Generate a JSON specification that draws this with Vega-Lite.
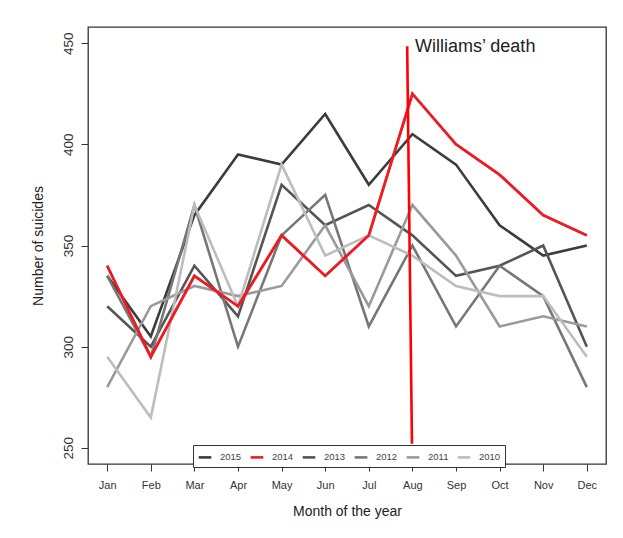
{
  "$schema": "https://vega.github.io/schema/vega-lite/v6.json",
  "width": 518,
  "height": 437,
  "autosize": {"type": "none"},
  "padding": {"left": 88, "top": 27, "right": 17, "bottom": 74},
  "background": "white",
  "config": {
    "font": "Liberation Sans",
    "view": {"stroke": "#333333", "strokeWidth": 1.3},
    "axis": {"grid": false, "domain": false, "tickColor": "#333333", "tickSize": 7, "tickWidth": 1, "labelColor": "#333333", "titleColor": "#222222", "titleFontWeight": "normal", "titleFont": "Liberation Sans", "labelFont": "Liberation Sans"}
  },
  "datasets": {
    "suicides": [
      {"year": "2015", "month": 1, "n": 335}, {"year": "2015", "month": 2, "n": 305}, {"year": "2015", "month": 3, "n": 365}, {"year": "2015", "month": 4, "n": 395}, {"year": "2015", "month": 5, "n": 390}, {"year": "2015", "month": 6, "n": 415}, {"year": "2015", "month": 7, "n": 380}, {"year": "2015", "month": 8, "n": 405}, {"year": "2015", "month": 9, "n": 390}, {"year": "2015", "month": 10, "n": 360}, {"year": "2015", "month": 11, "n": 345}, {"year": "2015", "month": 12, "n": 350},
      {"year": "2013", "month": 1, "n": 320}, {"year": "2013", "month": 2, "n": 300}, {"year": "2013", "month": 3, "n": 340}, {"year": "2013", "month": 4, "n": 315}, {"year": "2013", "month": 5, "n": 380}, {"year": "2013", "month": 6, "n": 360}, {"year": "2013", "month": 7, "n": 370}, {"year": "2013", "month": 8, "n": 355}, {"year": "2013", "month": 9, "n": 335}, {"year": "2013", "month": 10, "n": 340}, {"year": "2013", "month": 11, "n": 350}, {"year": "2013", "month": 12, "n": 300},
      {"year": "2012", "month": 1, "n": 335}, {"year": "2012", "month": 2, "n": 295}, {"year": "2012", "month": 3, "n": 370}, {"year": "2012", "month": 4, "n": 300}, {"year": "2012", "month": 5, "n": 355}, {"year": "2012", "month": 6, "n": 375}, {"year": "2012", "month": 7, "n": 310}, {"year": "2012", "month": 8, "n": 350}, {"year": "2012", "month": 9, "n": 310}, {"year": "2012", "month": 10, "n": 340}, {"year": "2012", "month": 11, "n": 325}, {"year": "2012", "month": 12, "n": 280},
      {"year": "2011", "month": 1, "n": 280}, {"year": "2011", "month": 2, "n": 320}, {"year": "2011", "month": 3, "n": 330}, {"year": "2011", "month": 4, "n": 325}, {"year": "2011", "month": 5, "n": 330}, {"year": "2011", "month": 6, "n": 360}, {"year": "2011", "month": 7, "n": 320}, {"year": "2011", "month": 8, "n": 370}, {"year": "2011", "month": 9, "n": 345}, {"year": "2011", "month": 10, "n": 310}, {"year": "2011", "month": 11, "n": 315}, {"year": "2011", "month": 12, "n": 310},
      {"year": "2010", "month": 1, "n": 295}, {"year": "2010", "month": 2, "n": 265}, {"year": "2010", "month": 3, "n": 370}, {"year": "2010", "month": 4, "n": 320}, {"year": "2010", "month": 5, "n": 390}, {"year": "2010", "month": 6, "n": 345}, {"year": "2010", "month": 7, "n": 355}, {"year": "2010", "month": 8, "n": 345}, {"year": "2010", "month": 9, "n": 330}, {"year": "2010", "month": 10, "n": 325}, {"year": "2010", "month": 11, "n": 325}, {"year": "2010", "month": 12, "n": 295},
      {"year": "2014", "month": 1, "n": 340}, {"year": "2014", "month": 2, "n": 295}, {"year": "2014", "month": 3, "n": 335}, {"year": "2014", "month": 4, "n": 320}, {"year": "2014", "month": 5, "n": 355}, {"year": "2014", "month": 6, "n": 335}, {"year": "2014", "month": 7, "n": 355}, {"year": "2014", "month": 8, "n": 425}, {"year": "2014", "month": 9, "n": 400}, {"year": "2014", "month": 10, "n": 385}, {"year": "2014", "month": 11, "n": 365}, {"year": "2014", "month": 12, "n": 355}
    ],
    "event": [
      {"label": "Williams\u2019 death", "x0": 7.88, "y0": 448.5, "x1": 7.99, "y1": 252, "tx": 8.06, "ty": 448}
    ]
  },
  "layer": [
    {
      "data": {"name": "suicides"},
      "mark": {"type": "line", "strokeWidth": 2.6, "strokeJoin": "miter"},
      "encoding": {
        "x": {
          "field": "month", "type": "quantitative",
          "scale": {"domain": [0.56, 12.44], "nice": false, "zero": false},
          "axis": {"values": [1,2,3,4,5,6,7,8,9,10,11,12], "labelExpr": "['Jan','Feb','Mar','Apr','May','Jun','Jul','Aug','Sep','Oct','Nov','Dec'][datum.value-1]", "labelFontSize": 11, "labelPadding": 8, "title": "Month of the year", "titleFontSize": 14, "titlePadding": 14}
        },
        "y": {
          "field": "n", "type": "quantitative",
          "scale": {"domain": [242, 458], "nice": false, "zero": false},
          "axis": {"values": [250, 300, 350, 400, 450], "labelAngle": 270, "labelAlign": "center", "labelBaseline": "bottom", "labelFontSize": 13.5, "labelPadding": 6, "title": "Number of suicides", "titleFontSize": 14, "titlePadding": 16}
        },
        "color": {
          "field": "year", "type": "nominal",
          "scale": {"domain": ["2015", "2014", "2013", "2012", "2011", "2010"], "range": ["#3c3c3c", "#ee1c24", "#555555", "#777777", "#9a9a9a", "#bdbdbd"]},
          "sort": ["2015", "2014", "2013", "2012", "2011", "2010"],
          "legend": {
            "orient": "none", "legendX": 105, "legendY": 418, "direction": "horizontal", "columns": 6,
            "title": null, "symbolType": "stroke", "symbolSize": 160, "symbolStrokeWidth": 2.6,
            "labelFontSize": 9.5, "labelColor": "#444444", "labelOffset": 7, "columnPadding": 3,
            "strokeColor": "#333333", "fillColor": "white", "padding": 4
          }
        },
        "order": {"field": "month", "type": "quantitative"}
      }
    },
    {
      "data": {"name": "suicides"},
      "transform": [{"filter": "datum.year == '2014'"}],
      "mark": {"type": "line", "strokeWidth": 2.6, "color": "#ee1c24"},
      "encoding": {
        "x": {"field": "month", "type": "quantitative"},
        "y": {"field": "n", "type": "quantitative"},
        "order": {"field": "month", "type": "quantitative"}
      }
    },
    {
      "data": {"name": "event"},
      "mark": {"type": "rule", "color": "#ff0000", "strokeWidth": 2.6},
      "encoding": {
        "x": {"field": "x0", "type": "quantitative"},
        "x2": {"field": "x1"},
        "y": {"field": "y0", "type": "quantitative"},
        "y2": {"field": "y1"}
      }
    },
    {
      "data": {"name": "event"},
      "mark": {"type": "text", "align": "left", "baseline": "middle", "fontSize": 18, "color": "#222222"},
      "encoding": {
        "x": {"field": "tx", "type": "quantitative"},
        "y": {"field": "ty", "type": "quantitative"},
        "text": {"field": "label"}
      }
    }
  ]
}
